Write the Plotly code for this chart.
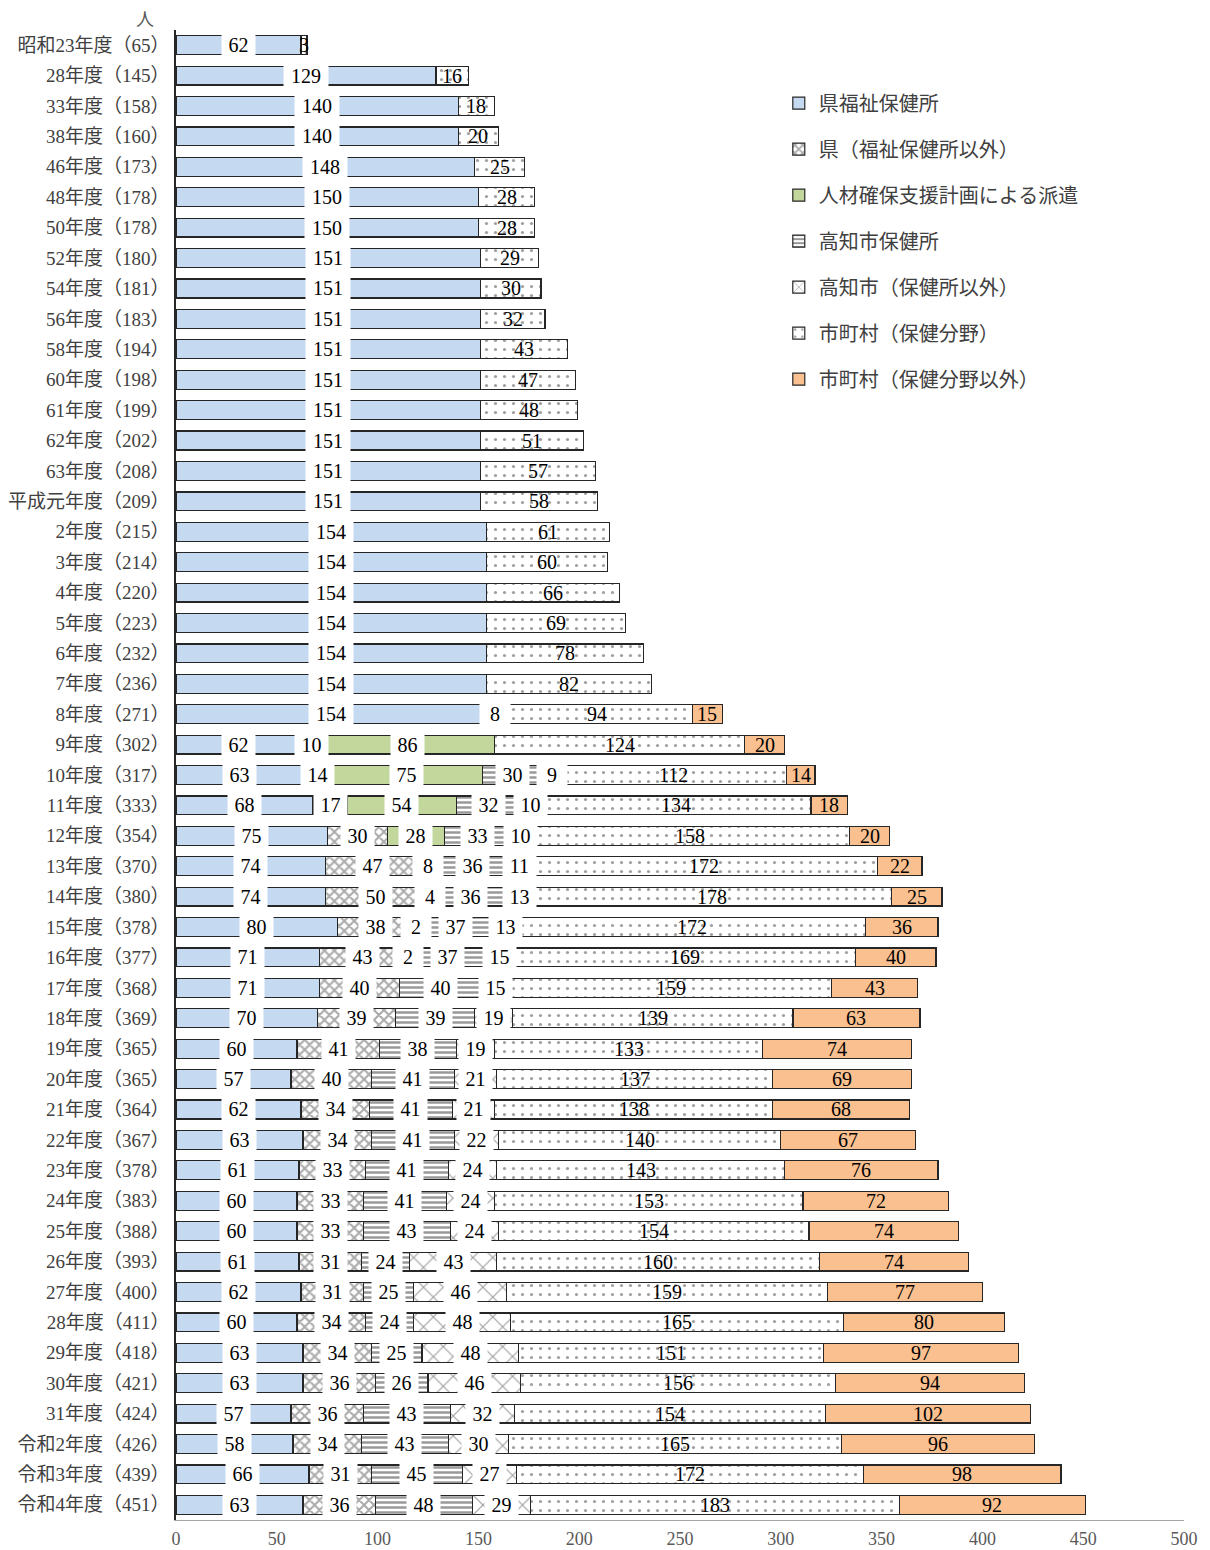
import plotly.graph_objects as go

categories = ["昭和23年度（65）", "28年度（145）", "33年度（158）", "38年度（160）", "46年度（173）",
              "48年度（178）", "50年度（178）", "52年度（180）", "54年度（181）", "56年度（183）",
              "58年度（194）", "60年度（198）", "61年度（199）", "62年度（202）", "63年度（208）",
              "平成元年度（209）", "2年度（215）", "3年度（214）", "4年度（220）", "5年度（223）",
              "6年度（232）", "7年度（236）", "8年度（271）", "9年度（302）", "10年度（317）",
              "11年度（333）", "12年度（354）", "13年度（370）", "14年度（380）", "15年度（378）",
              "16年度（377）", "17年度（368）", "18年度（369）", "19年度（365）", "20年度（365）",
              "21年度（364）", "22年度（367）", "23年度（378）", "24年度（383）", "25年度（388）",
              "26年度（393）", "27年度（400）", "28年度（411）", "29年度（418）", "30年度（421）",
              "31年度（424）", "令和2年度（426）", "令和3年度（439）", "令和4年度（451）"]

N = None
ken_hc = [62, 129, 140, 140, 148, 150, 150, 151, 151, 151, 151, 151, 151, 151, 151, 151,
          154, 154, 154, 154, 154, 154, 154, 62, 63, 68, 75, 74, 74, 80, 71, 71, 70, 60, 57,
          62, 63, 61, 60, 60, 61, 62, 60, 63, 63, 57, 58, 66, 63]
ken_other = [N] * 22 + [8, 10, 14, 17, 30, 47, 50, 38, 43, 40, 39, 41, 40, 34, 34, 33, 33, 33,
                        31, 31, 34, 34, 36, 36, 34, 31, 36]
jinzai = [N] * 23 + [86, 75, 54, 28, 8, 4, 2, 2] + [N] * 18
kochi_hc = [N] * 24 + [30, 32, 33, 36, 36, 37, 37, 40, 39, 38, 41, 41, 41, 41, 41, 43,
                       24, 25, 24, 25, 26, 43, 43, 45, 48]
kochi_other = [N] * 24 + [9, 10, 10, 11, 13, 13, 15, 15, 19, 19, 21, 21, 22, 24, 24, 24,
                          43, 46, 48, 48, 46, 32, 30, 27, 29]
muni_h = [3, 16, 18, 20, 25, 28, 28, 29, 30, 32, 43, 47, 48, 51, 57, 58, 61, 60, 66, 69,
          78, 82, 94, 124, 112, 134, 158, 172, 178, 172, 169, 159, 139, 133, 137, 138, 140,
          143, 153, 154, 160, 159, 165, 151, 156, 154, 165, 172, 183]
muni_other = [N] * 22 + [15, 20, 14, 18, 20, 22, 25, 36, 40, 43, 63, 74, 69, 68, 67, 76,
                         72, 74, 74, 77, 80, 97, 94, 102, 96, 98, 92]

names = ["県福祉保健所", "県（福祉保健所以外）", "人材確保支援計画による派遣", "高知市保健所",
         "高知市（保健所以外）", "市町村（保健分野）", "市町村（保健分野以外）"]
series = [ken_hc, ken_other, jinzai, kochi_hc, kochi_other, muni_h, muni_other]

styles = [
    dict(color="#C5D9F1"),
    dict(color="white", pattern=dict(shape="x", size=7, solidity=0.5, fgcolor="#555555", bgcolor="white")),
    dict(color="#C3D69B"),
    dict(color="white", pattern=dict(shape="-", size=5, solidity=0.5, fgcolor="#333333", bgcolor="white")),
    dict(color="white", pattern=dict(shape="x", size=14, solidity=0.16, fgcolor="#404040", bgcolor="white")),
    dict(color="white", pattern=dict(shape=".", size=9, solidity=0.1, fgcolor="#404040", bgcolor="white")),
    dict(color="#FAC090"),
]
boxed = [True, True, True, True, True, False, False]

FONT = "Liberation Serif, Noto Sans CJK JP, serif"

fig = go.Figure()
for i, (nm, vals) in enumerate(zip(names, series)):
    m = dict(styles[i])
    m["line"] = dict(color="#262626", width=1.2)
    fig.add_trace(go.Bar(
        y=categories, x=vals, name=nm, orientation="h", marker=m,
        legendgroup=f"g{i}", hoverinfo="x+y+name",
    ))

# data labels at segment centres (derived from cumulative sums)
annotations = []
for r, cat in enumerate(categories):
    cum = 0
    for i, vals in enumerate(series):
        v = vals[r]
        if v is None or v == 0:
            continue
        centre = cum + v / 2
        cum += v
        txt = str(v)
        w = {1: 30, 2: 33, 3: 44}[len(txt)]
        a = dict(x=centre, y=cat, xref="x", yref="y", text=txt, showarrow=False,
                 font=dict(family=FONT, size=20, color="black"))
        if boxed[i]:
            a.update(bgcolor="white", width=w, height=22, borderpad=0)
        annotations.append(a)

annotations.append(dict(x=-0.0308, y=1.0145, xref="paper", yref="paper", text="人",
                        xanchor="center", yanchor="top",
                        showarrow=False, font=dict(family=FONT, size=18, color="#595959")))

# page body has an 8px margin: figure sized 1202x1542 so the plot lands where the reference is
fig.update_layout(
    width=1202, height=1542,
    margin=dict(l=168, r=26, t=22, b=30),
    barmode="stack", bargap=0.38,
    plot_bgcolor="white", paper_bgcolor="white",
    font=dict(family=FONT, size=18, color="#404040"),
    annotations=annotations,
    showlegend=True,
    legend=dict(x=0.598, y=0.964, xanchor="left", yanchor="top",
                traceorder="grouped", tracegroupgap=17,
                font=dict(family=FONT, size=20, color="#404040"),
                bgcolor="rgba(0,0,0,0)"),
)
fig.update_xaxes(range=[0, 500], dtick=50, tick0=0, showgrid=False, zeroline=False,
                 showline=True, linecolor="#A6A6A6", linewidth=1, automargin=False,
                 tickfont=dict(family=FONT, size=18, color="#595959"),
                 ticks="", ticklabelstandoff=2)
fig.update_yaxes(autorange="reversed", showgrid=False, showline=True, linecolor="#262626",
                 linewidth=1.5, ticks="", ticklabelstandoff=1, automargin=False,
                 tickfont=dict(family=FONT, size=19, color="#404040"))

fig.write_html("out.html")
